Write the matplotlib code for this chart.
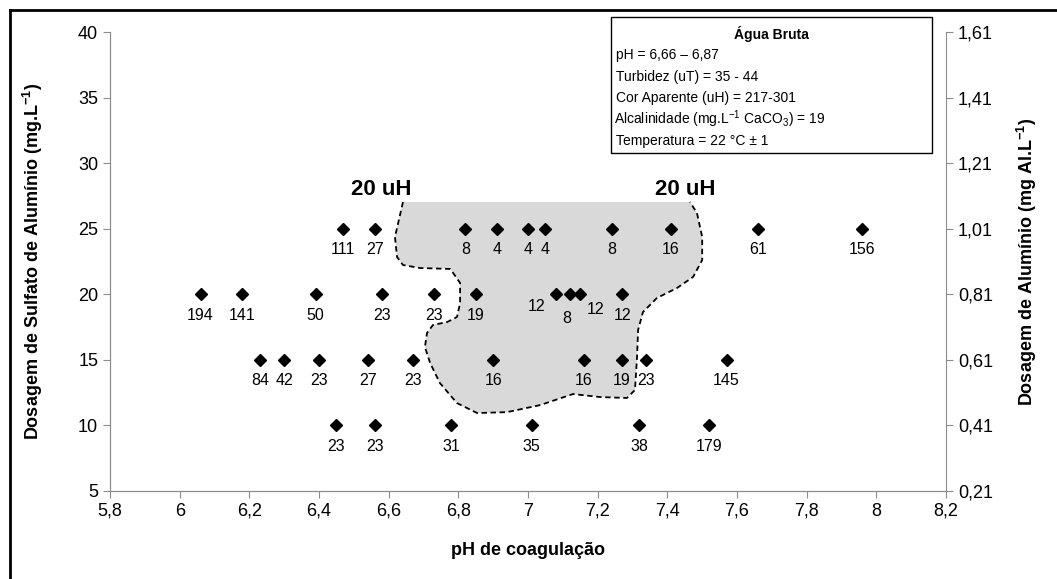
import matplotlib
matplotlib.use('Agg')
from matplotlib import pyplot as plt
from matplotlib.patches import Rectangle, Polygon
from matplotlib.lines import Line2D
from matplotlib.ticker import FuncFormatter

plt.rcParams['font.family'] = ['Liberation Sans', 'DejaVu Sans']
plt.rcParams['mathtext.fontset'] = 'custom'
plt.rcParams['mathtext.rm'] = 'Liberation Sans'
plt.rcParams['mathtext.bf'] = 'Liberation Sans:bold'

# Coagulation tests: pH, alum dose (mg/L) and residual apparent colour (uH)
ph_25 = [6.47, 6.56, 6.82, 6.91, 7.00, 7.05, 7.24, 7.41, 7.66, 7.96]
cor_25 = [111, 27, 8, 4, 4, 4, 8, 16, 61, 156]

ph_20 = [6.06, 6.18, 6.39, 6.58, 6.73, 6.85, 7.08, 7.12, 7.15, 7.27]
cor_20 = [194, 141, 50, 23, 23, 19, 12, 8, 12, 12]

ph_15 = [6.23, 6.30, 6.40, 6.54, 6.67, 6.90, 7.16, 7.27, 7.34, 7.57]
cor_15 = [84, 42, 23, 27, 23, 16, 16, 19, 23, 145]

ph_10 = [6.45, 6.56, 6.78, 7.01, 7.32, 7.52]
cor_10 = [23, 23, 31, 35, 38, 179]

doses = [25, 20, 15, 10]
ph_sets = [ph_25, ph_20, ph_15, ph_10]
cor_sets = [cor_25, cor_20, cor_15, cor_10]

# outline of the 20 uH region (pH, dose), from top-left round to top-right
region_ph = [6.641, 6.618, 6.624, 6.641, 6.690, 6.776, 6.785, 6.805, 6.805,
             6.796, 6.768, 6.727, 6.710, 6.704, 6.719, 6.747, 6.796, 6.854,
             6.940, 7.035, 7.129, 7.207, 7.284, 7.307, 7.313, 7.316, 7.330,
             7.370, 7.428, 7.474, 7.500, 7.500, 7.485, 7.465]
region_dose = [27.06, 24.39, 22.86, 22.25, 22.02, 21.95, 21.64, 20.88, 19.35,
               18.28, 17.90, 17.67, 17.06, 15.99, 14.77, 13.24, 11.71, 10.95,
               11.02, 11.56, 12.40, 12.17, 12.10, 12.71, 15.23, 17.29, 18.66,
               19.73, 20.50, 21.34, 22.63, 24.39, 26.22, 27.06]

# label nudges (points) for the crowded points at 20 mg/L
label_offsets = {(20, 6): (-14, -9), (20, 7): (-2, -17), (20, 8): (11, -11)}

fig = plt.figure(figsize=(10.57, 5.79), dpi=100)
ax = fig.add_axes([0.1041, 0.152, 0.895 - 0.1041, 0.9439 - 0.152])

pts = list(zip(region_ph, region_dose))
ax.add_patch(Polygon(pts, closed=True, facecolor='#d9d9d9', edgecolor='none', zorder=1))
ax.plot(region_ph, region_dose, color='black', lw=1.3, dashes=(3, 2), zorder=2)

for dose, phs, cors in zip(doses, ph_sets, cor_sets):
    ax.plot(phs, [dose] * len(phs), linestyle='none', marker='D', markersize=6.3,
            color='black', zorder=3)
    for i, (p, c) in enumerate(zip(phs, cors)):
        dx, dy = label_offsets.get((dose, i), (0, -15))
        ax.annotate(str(c), (p, dose), xytext=(dx, dy), textcoords='offset points',
                    ha='center', va='center', fontsize=11.5)

ax.text(6.58, 28.0, '20 uH', fontsize=16, fontweight='bold', ha='center', va='center')
ax.text(7.45, 28.0, '20 uH', fontsize=16, fontweight='bold', ha='center', va='center')

comma = FuncFormatter(lambda v, pos: f'{v:g}'.replace('.', ','))

ax.set_xlim(5.8, 8.2)
ax.set_ylim(5, 40)
ax.set_xticks([5.8 + 0.2 * k for k in range(13)])
ax.set_yticks(range(5, 41, 5))
ax.xaxis.set_major_formatter(comma)
ax.set_xlabel('pH de coagulação', fontsize=13, fontweight='bold', labelpad=16)
ax.set_ylabel(r'Dosagem de Sulfato de Alumínio (mg.L$^{\mathbf{-1}}$)',
              fontsize=13, fontweight='bold', labelpad=24)

ax2 = ax.twinx()
ax2.set_ylim(0.21, 1.61)
ax2.set_yticks([0.21 + 0.2 * k for k in range(8)])
ax2.yaxis.set_major_formatter(FuncFormatter(lambda v, pos: f'{v:.2f}'.replace('.', ',')))
ax2.set_ylabel(r'Dosagem de Alumínio (mg Al.L$^{\mathbf{-1}}$)',
               fontsize=13, fontweight='bold', labelpad=16)

for a in (ax, ax2):
    a.spines['top'].set_visible(False)
    for s in a.spines.values():
        s.set_color('#8c8c8c')
    a.tick_params(axis='both', colors='#8c8c8c', labelcolor='black',
                  labelsize=13, length=5, direction='out')
ax.spines['right'].set_visible(False)

# info box
bx0, by0, bx1, by1 = 611, 17, 932, 153
W, H = 1057, 579
fig.patches.append(Rectangle((bx0 / W, 1 - by1 / H), (bx1 - bx0) / W, (by1 - by0) / H,
                             transform=fig.transFigure, facecolor='white',
                             edgecolor='black', lw=1, zorder=10))
fig.text((bx0 + bx1) / 2 / W, 1 - 34 / H, 'Água Bruta', ha='center', va='center',
         fontsize=10, fontweight='bold', zorder=11)
info_lines = ['pH = 6,66 – 6,87',
              'Turbidez (uT) = 35 - 44',
              'Cor Aparente (uH) = 217-301',
              r'Alcalinidade (mg.L$^{-1}$ CaCO$_3$) = 19',
              'Temperatura = 22 °C ± 1']
for k, line in enumerate(info_lines):
    # mathtext lines carry a little extra left bearing
    x0 = 614 if '$' in line else 616
    fig.text(x0 / W, 1 - (55 + 21.5 * k) / H, line, ha='left', va='center',
             fontsize=10, zorder=11)

# outer frame
fig.add_artist(Line2D([10 / W, 1], [1 - 10 / H, 1 - 10 / H], color='black', lw=2,
                      transform=fig.transFigure))
fig.add_artist(Line2D([10 / W, 10 / W], [0, 1 - 10 / H], color='black', lw=2,
                      transform=fig.transFigure))

fig.savefig('out.png', dpi=100)
